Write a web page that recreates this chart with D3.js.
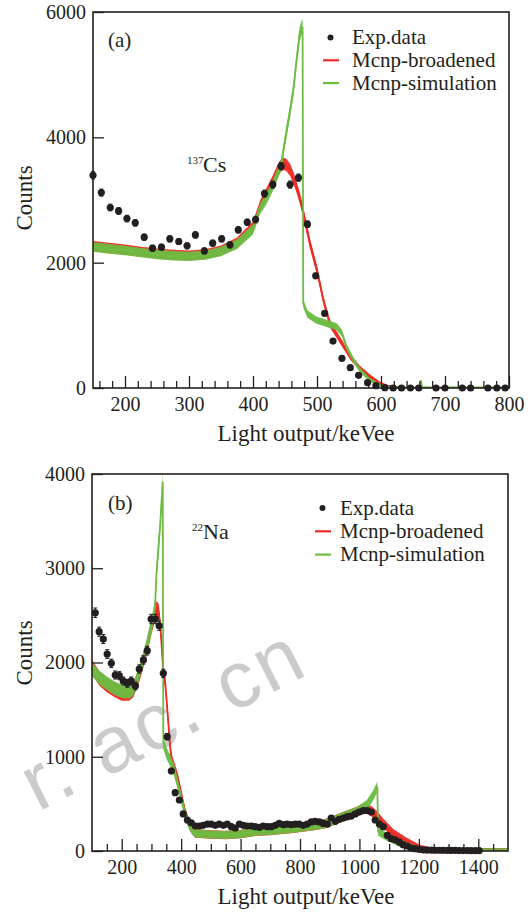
<!DOCTYPE html>
<html><head><meta charset="utf-8">
<script src="https://cdn.jsdelivr.net/npm/d3@7"></script>
<style>
body{margin:0;background:#fff}
svg{display:block}
text{font-family:"Liberation Serif","Times New Roman",serif;fill:#231f20}
</style>
</head><body>
<svg id="c" width="531" height="912"></svg>
<script>
// ---------- Panel (a): 137Cs ----------
const expA_x = [150,163,177,190,203,216,230,243,257,270,284,297,310,324,337,351,364,377,391,404,418,431,444,458,471,485,498,512,525,539,552,565,579,592,606,619,632,646,659,686,700,727,740,767,781,794];
const expA_y = [3394,3118,2880,2826,2704,2635,2406,2231,2247,2380,2338,2268,2443,2188,2311,2380,2284,2523,2645,2688,3102,3246,3538,3246,3357,2614,1790,1190,749,473,324,202,85,37,5,0,0,0,0,0,0,0,0,0,0,0];

const brA_x = [150,175,200,225,250,275,300,325,350,375,400,411,420,431,440,446,452,458,464,468,474,479,489,500,510,520,536,552,567,583,598,610,625,640,800];
const brA_y = [2265,2235,2210,2175,2145,2125,2115,2135,2195,2320,2570,2900,3080,3300,3500,3580,3560,3480,3330,3210,3000,2780,2306,1880,1400,1031,765,499,314,180,75,30,10,0,0];

const simA_x = [150,175,200,225,250,275,300,325,350,375,400,411,420,431,444,450,458,463,468,473,476,477.5,478.5,485,499,515,531,539,546,557,567,583,598,610,620,655,661,662.5,664,680,800];
const simA_y = [2250,2220,2195,2160,2130,2110,2100,2120,2180,2295,2530,2860,3000,3230,3560,3950,4430,4750,5230,5650,5750,5750,1350,1180,1084,1031,977,876,658,446,287,127,48,15,5,5,5,120,5,5,5];

const xTicksA = [200,300,400,500,600,700,800];
const yTicksA = [0,2000,4000,6000];

// ---------- Panel (b): 22Na ----------
const expB_x = [111,124,138,151,165,178,192,205,219,232,246,259,273,286,299,313,326,340,353,367,380,394,407,421,434,448,461,474,488,501,515,528,542,555,569,582,596,609,622,636,649,663,676,690,703,717,730,744,757,771,784,797,811,824,838,851,865,878,892,905,919,932,946,959,972,986,999,1013,1026,1040,1053,1067,1080,1094,1107,1121,1134,1147,1161,1174,1188,1201,1215,1228,1242,1255,1269,1282,1296,1309,1323,1336,1349,1363,1376,1390,1403];
const expB_y = [2528,2327,2249,2090,1991,1867,1860,1804,1779,1804,1751,1931,2027,2125,2461,2461,2390,1885,1213,849,619,541,393,329,300,265,265,272,286,286,272,286,272,286,258,244,286,272,265,265,258,251,265,258,258,272,293,279,286,279,286,286,272,286,308,315,308,293,286,350,315,336,350,364,371,393,414,428,428,414,329,286,258,166,131,117,95,67,53,32,25,18,12,10,10,8,8,8,6,6,6,5,5,5,4,4,4];

const brB_x = [100,125,150,175,200,225,240,262,284,300,310,318,325,332,340,346,351,357,362,368,379,390,402,413,430,447,500,550,600,650,700,778,850,890,946,991,1010,1025,1045,1060,1080,1114,1159,1204,1240,1300,1500];
const brB_y = [1950,1830,1760,1710,1670,1670,1710,1900,2150,2380,2500,2570,2530,2300,1900,1800,1602,1355,1143,965,859,753,576,417,258,188,175,170,180,205,215,240,270,294,364,417,445,453,410,370,294,188,99,29,5,0,0];

const simB_x = [100,125,150,175,200,225,240,262,284,301,312,317,329,338,340,351,362,374,385,396,407,419,436,447,500,550,600,650,700,778,850,890,946,991,1025,1047,1060,1063,1092,1137,1182,1226,1300,1500];
const simB_y = [1930,1840,1780,1730,1695,1690,1720,1920,2170,2400,2580,2946,3440,3918,1150,1036,965,877,753,612,470,329,223,188,175,170,180,205,215,240,270,294,364,417,488,594,682,205,152,82,29,5,0,0];

const xTicksB = [200,400,600,800,1000,1200,1400];
const yTicksB = [0,1000,2000,3000,4000];

const legendNames = ["Exp.data","Mcnp-broadened","Mcnp-simulation"];
const RED = "#ee2b25", GREEN = "#6dbd43", INK = "#231f20";

const svg = d3.select("#c");

// watermark
svg.append("text")
  .attr("transform","translate(38,812) rotate(-27)")
  .attr("text-anchor","start")
  .style("font-family","'Liberation Sans',Arial,sans-serif")
  .style("font-size","80px")
  .style("letter-spacing","3px")
  .style("fill","#cbcbcb")
  .text("r. ac. cn");

function panel(cfg){
  const b = cfg.box;
  const x = d3.scaleLinear().domain(cfg.xDom).range([b.l,b.r]);
  const y = d3.scaleLinear().domain(cfg.yDom).range([b.b,b.t]);
  const g = svg.append("g");
  const cid = "clip"+cfg.id;
  svg.append("clipPath").attr("id",cid).append("rect")
    .attr("x",b.l).attr("y",b.t).attr("width",b.r-b.l).attr("height",b.b-b.t);

  const sims = [
    {xs:cfg.brX, ys:cfg.brY, color:RED, k:cfg.noiseK*1.06, c:cfg.noiseC*1.06},
    {xs:cfg.simX, ys:cfg.simY, color:GREEN, k:cfg.noiseK, c:cfg.noiseC}
  ];
  sims.forEach(s=>{
    const pts = s.xs.map((v,i)=>[v,s.ys[i]]);
    const hw = d => s.k*Math.sqrt(d[1]) + s.c;
    g.append("path").datum(pts)
      .attr("clip-path",`url(#${cid})`)
      .attr("fill",s.color).attr("opacity",0.95)
      .attr("d", d3.area().x(d=>x(d[0])).y0(d=>y(d[1]-hw(d))).y1(d=>y(d[1]+hw(d))));
    g.append("path").datum(pts)
      .attr("clip-path",`url(#${cid})`)
      .attr("fill","none").attr("stroke",s.color).attr("stroke-width",1.8)
      .attr("d", d3.line().x(d=>x(d[0])).y(d=>y(d[1])));
  });

  // experimental points with error bars
  const ex = cfg.expX.map((v,i)=>({x:v,y:cfg.expY[i]}));
  const eg = g.append("g");
  ex.forEach(p=>{
    const e = Math.sqrt(p.y);
    if (e > 1){
      eg.append("line").attr("x1",x(p.x)).attr("x2",x(p.x))
        .attr("y1",y(p.y-e)).attr("y2",y(p.y+e)).attr("stroke",INK).attr("stroke-width",1.2);
      [p.y-e,p.y+e].forEach(v=>eg.append("line").attr("x1",x(p.x)-2).attr("x2",x(p.x)+2)
        .attr("y1",y(v)).attr("y2",y(v)).attr("stroke",INK).attr("stroke-width",1));
    }
  });
  eg.selectAll("circle").data(ex).join("circle")
    .attr("cx",d=>x(d.x)).attr("cy",d=>y(d.y)).attr("r",3.6).attr("fill",INK);

  // axes
  const styleAxis = a => {
    a.select(".domain").remove();
    a.attr("font-family","'Liberation Serif','Times New Roman',serif").attr("font-size",20);
    a.selectAll("line").attr("stroke",INK).attr("stroke-width",1.3);
    a.selectAll("text").attr("fill",INK);
  };
  g.append("g").attr("transform",`translate(0,${b.b})`)
    .call(d3.axisBottom(x).tickValues(cfg.xMinor).tickSize(-7).tickFormat(""))
    .call(styleAxis);
  g.append("g").attr("transform",`translate(0,${b.b})`)
    .call(d3.axisBottom(x).tickValues(cfg.xMajor).tickSize(-12).tickPadding(9).tickFormat(d3.format("d")))
    .call(styleAxis);
  g.append("g").attr("transform",`translate(${b.l},0)`)
    .call(d3.axisLeft(y).tickValues(cfg.yMajor).tickSize(-11).tickPadding(7).tickFormat(d3.format("d")))
    .call(styleAxis);

  g.append("rect").attr("x",b.l).attr("y",b.t).attr("width",b.r-b.l).attr("height",b.b-b.t)
    .attr("fill","none").attr("stroke",INK).attr("stroke-width",1.6);

  // titles
  g.append("text").attr("x",306).attr("y",b.b+53).attr("text-anchor","middle")
    .style("font-size","23px").text("Light output/keVee");
  g.append("text").attr("transform",`translate(32,${cfg.countsY}) rotate(-90)`)
    .attr("text-anchor","middle").style("font-size","23px").text("Counts");
  g.append("text").attr("x",108).attr("y",cfg.tagY).style("font-size","21px").text(cfg.tag);
  g.append("text").attr("x",cfg.iso.x).attr("y",cfg.iso.y-8).style("font-size","11px").text(cfg.iso.mass);
  g.append("text").attr("x",cfg.iso.elX).attr("y",cfg.iso.y).style("font-size","22px").text(cfg.iso.el);

  // legend
  const L = cfg.leg;
  g.append("circle").attr("cx",L.sx+7.5).attr("cy",L.y0).attr("r",3).attr("fill",INK);
  [RED,GREEN].forEach((c,i)=>g.append("line").attr("x1",L.sx).attr("x2",L.sx+16)
    .attr("y1",L.y0+L.dy*(i+1)).attr("y2",L.y0+L.dy*(i+1)).attr("stroke",c).attr("stroke-width",2.2));
  legendNames.forEach((n,i)=>g.append("text").attr("x",L.tx).attr("y",L.y0+L.dy*i+6.5)
    .style("font-size","21px").text(n));
}

panel({
  id:"a", box:{l:93,r:509,t:12,b:388}, xDom:[150,800], yDom:[0,6000],
  xMajor:xTicksA, xMinor:d3.range(160,800,20).filter(v=>v%100!==0), yMajor:yTicksA,
  expX:expA_x, expY:expA_y, brX:brA_x, brY:brA_y, simX:simA_x, simY:simA_y,
  noiseK:1.3, noiseC:15, countsY:198, tag:"(a)", tagY:47,
  iso:{x:187,elX:203,y:172,mass:"137",el:"Cs"},
  leg:{sx:323,tx:352,y0:37.5,dy:22.8}
});
panel({
  id:"b", box:{l:92,r:508,t:474,b:851}, xDom:[100,1500], yDom:[0,4000],
  xMajor:xTicksB, xMinor:d3.range(150,1500,50).filter(v=>v%200!==0), yMajor:yTicksB,
  expX:expB_x, expY:expB_y, brX:brB_x, brY:brB_y, simX:simB_x, simY:simB_y,
  noiseK:1.0, noiseC:30, countsY:653, tag:"(b)", tagY:510,
  iso:{x:192,elX:203,y:539,mass:"22",el:"Na"},
  leg:{sx:315,tx:340,y0:508,dy:23.3}
});
</script>
</body></html>
